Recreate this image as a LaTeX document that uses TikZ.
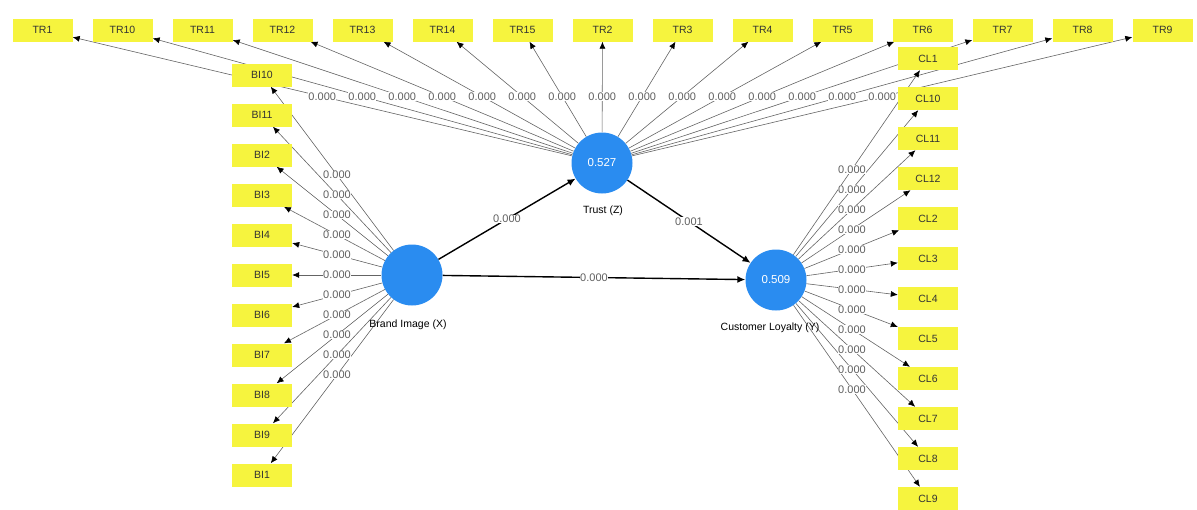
\documentclass[tikz,border=0pt]{standalone}
\usepackage{fontspec}
\setmainfont{Liberation Sans}
\usetikzlibrary{arrows.meta,calc}
\pgfdeclarelayer{bg}
\pgfsetlayers{bg,main}
\definecolor{plsyellow}{RGB}{246,244,62}
\definecolor{plsblue}{RGB}{42,140,240}
\definecolor{linegray}{RGB}{100,100,100}
\definecolor{labgray}{RGB}{95,95,95}
\begin{document}
\begin{tikzpicture}[x=1pt,y=-1pt,
  ind/.style={fill=plsyellow, minimum width=60pt, minimum height=23pt, inner sep=0pt,
              font=\fontsize{10.5}{11}\selectfont, text=black!80},
  lat/.style={circle, fill=plsblue, minimum size=61pt, inner sep=0pt,
              font=\fontsize{11.5}{12}\selectfont, text=white},
  latname/.style={font=\fontsize{10.5}{11}\selectfont, text=black},
  load/.style={draw=linegray, line width=0.6pt, -{Latex[length=7pt,width=6pt,color=black]}},
  structarrow/.style={draw=black, line width=1.4pt, -{Latex[length=8pt,width=7pt]}},
  lab/.style={fill=white, inner sep=0.4pt, font=\fontsize{11}{11}\selectfont, text=labgray}]
\useasboundingbox (0,0) rectangle (1197,509);

% latent variables
\node[lat] (bi) at (412,275) {};
\node[lat] (tr) at (602,163) {0.527};
\node[lat] (cl) at (776,280) {0.509};
\node[latname] (biname) at (408,325) {Brand Image (X)};
\node[latname] (trname) at (603,211) {Trust (Z)};
\node[latname] (clname) at (770,328) {Customer Loyalty (Y)};

% indicators
\foreach \n [count=\i] in {1,10,11,12,13,14,15,2,3,4,5,6,7,8,9}
  \node[ind] (TR\n) at ({42.5+80*(\i-1)},30) {TR\n};
\foreach \n [count=\i] in {10,11,2,3,4,5,6,7,8,9,1}
  \node[ind] (BI\n) at (262,{75+40*(\i-1)}) {BI\n};
\foreach \n [count=\i] in {1,10,11,12,2,3,4,5,6,7,8,9}
  \node[ind] (CL\n) at (928,{58.5+40*(\i-1)}) {CL\n};

% connectors
\begin{pgfonlayer}{bg}
\foreach \n in {1,10,11,12,13,14,15,2,3,4,5,6,7,8,9}
  \draw[load] (tr) -- (TR\n);
\foreach \n in {10,11,2,3,4,5,6,7,8,9,1}
  \draw[load] (bi) -- (BI\n);
\foreach \n in {1,10,11,12,2,3,4,5,6,7,8,9}
  \draw[load] (cl) -- (CL\n);
\draw[structarrow] (bi) -- (tr);
\draw[structarrow] (tr) -- (cl);
\draw[structarrow] (bi) -- (cl);
\end{pgfonlayer}

% labels
\foreach \n in {1,10,11,12,13,14,15,2,3,4,5,6,7,8,9}
  \node[lab] at ($(tr)!0.5!(TR\n)$) {0.000};
\foreach \n in {10,11,2,3,4,5,6,7,8,9,1}
  \node[lab] at ($(bi)!0.5!(BI\n)$) {0.000};
\foreach \n in {1,10,11,12,2,3,4,5,6,7,8,9}
  \node[lab] at ($(cl)!0.5!(CL\n)$) {0.000};
\node[lab] at ($(bi)!0.5!(tr)$) {0.000};
\node[lab] at ($(tr)!0.5!(cl)$) {0.001};
\node[lab] at ($(bi)!0.5!(cl)$) {0.000};
\end{tikzpicture}
\end{document}
